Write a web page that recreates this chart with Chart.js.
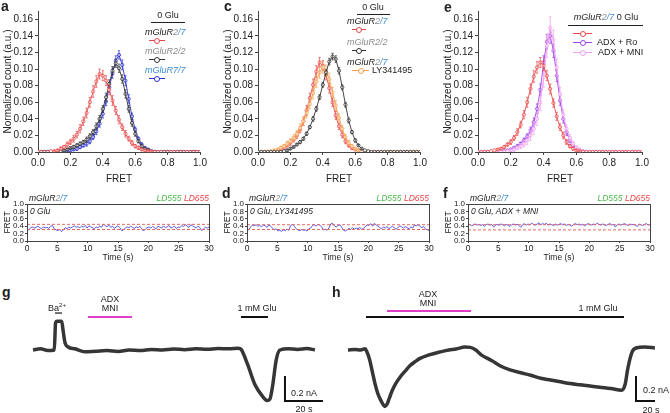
<!DOCTYPE html>
<html>
<head>
<meta charset="utf-8">
<script src="https://cdn.jsdelivr.net/npm/chart.js@4.4.1/dist/chart.umd.min.js"></script>
<style>
  body { margin: 0; background: #fff; }
  #fig { position: relative; width: 670px; height: 413px; overflow: hidden; font-family: "Liberation Sans", Arial, sans-serif; color: #222; }
  #fig canvas { position: absolute; }
  .t { position: absolute; white-space: nowrap; font-size: 9px; line-height: 1; }
  .c { transform: translate(-50%, -50%); }
  .m { transform: translateY(-50%); }
  .it { font-style: italic; }
  .lab { position: absolute; font-weight: bold; font-size: 14px; line-height: 1; }
  .hl { position: absolute; height: 0; border-top: 1px solid #222; }
  .dot { position: absolute; left: 50%; top: -3.5px; margin-left: -3px; width: 4px; height: 4px; border: 1px solid; border-radius: 50%; background: #fff; }
  .g2 { color: #8a8a8a; }
  .b7 { color: #3b8ed8; }
</style>
</head>
<body>
<div id="fig">
  <canvas id="chartA" width="215" height="190" style="left:0;top:0"></canvas>
  <canvas id="chartC" width="215" height="190" style="left:220px;top:0"></canvas>
  <canvas id="chartE" width="220" height="190" style="left:440px;top:0"></canvas>
  <canvas id="chartB" width="215" height="80" style="left:0;top:185px"></canvas>
  <canvas id="chartD" width="215" height="80" style="left:220px;top:185px"></canvas>
  <canvas id="chartF" width="215" height="80" style="left:441px;top:185px"></canvas>
  <canvas id="chartG" width="310" height="123" style="left:20px;top:290px"></canvas>
  <canvas id="chartH" width="335" height="123" style="left:335px;top:290px"></canvas>

  <div class="lab" style="left:1px;top:-1px">a</div>
  <div class="lab" style="left:224px;top:-1px">c</div>
  <div class="lab" style="left:444px;top:0">e</div>
  <div class="lab" style="left:1px;top:186px">b</div>
  <div class="lab" style="left:222px;top:186px">d</div>
  <div class="lab" style="left:443px;top:186px">f</div>
  <div class="lab" style="left:2px;top:285px">g</div>
  <div class="lab" style="left:332px;top:285px">h</div>

  <!-- legend a -->
  <div class="t c" style="left:168px;top:15px">0 Glu</div>
  <div class="hl" style="left:151px;top:22px;width:34px"></div>
  <div class="t m it" style="left:145px;top:32px">mGluR<span class="g2">2</span><span class="b7">/7</span></div>
  <div class="hl" style="left:149px;top:40px;width:16px;border-color:#e8474a"><span class="dot" style="border-color:#e8474a"></span></div>
  <div class="t m it g2" style="left:145px;top:51px">mGluR2/2</div>
  <div class="hl" style="left:149px;top:59px;width:16px;border-color:#333"><span class="dot" style="border-color:#333"></span></div>
  <div class="t m it b7" style="left:145px;top:70px">mGluR7/7</div>
  <div class="hl" style="left:149px;top:78px;width:16px;border-color:#2b2fd0"><span class="dot" style="border-color:#2b2fd0"></span></div>

  <!-- legend c -->
  <div class="t c" style="left:373px;top:7px">0 Glu</div>
  <div class="hl" style="left:357px;top:14px;width:33px"></div>
  <div class="t m it" style="left:347px;top:21px">mGluR<span class="g2">2</span><span class="b7">/7</span></div>
  <div class="hl" style="left:352px;top:29px;width:14px;border-color:#e8474a"><span class="dot" style="border-color:#e8474a"></span></div>
  <div class="t m it g2" style="left:347px;top:42px">mGluR2/2</div>
  <div class="hl" style="left:352px;top:50px;width:14px;border-color:#333"><span class="dot" style="border-color:#333"></span></div>
  <div class="t m it" style="left:347px;top:62px">mGluR<span class="g2">2</span><span class="b7">/7</span></div>
  <div class="hl" style="left:352px;top:70px;width:17px;border-color:#f5a04c"><span class="dot" style="border-color:#f5a04c"></span></div>
  <div class="t m" style="left:372px;top:70px">LY341495</div>

  <!-- legend e -->
  <div class="t c" style="left:606px;top:17px"><span class="it">mGluR<span class="g2">2</span><span class="b7">/7</span></span> 0 Glu</div>
  <div class="hl" style="left:568px;top:25px;width:75px"></div>
  <div class="hl" style="left:573px;top:33px;width:19px;border-color:#e8474a"><span class="dot" style="border-color:#e8474a"></span></div>
  <div class="hl" style="left:573px;top:42px;width:19px;border-color:#9a45e6"><span class="dot" style="border-color:#9a45e6"></span></div>
  <div class="t m" style="left:597px;top:42px">ADX + Ro</div>
  <div class="hl" style="left:573px;top:52px;width:19px;border-color:#f29ef0"><span class="dot" style="border-color:#f29ef0"></span></div>
  <div class="t m" style="left:598px;top:52px">ADX + MNI</div>

  <!-- trace panel captions -->
  <div class="t m it" style="left:29px;top:198px;font-size:8.5px">mGluR<span class="g2">2</span><span class="b7">/7</span></div>
  <div class="t m it" style="right:461px;top:198px;font-size:8.5px"><span style="color:#4cb84c">LD555</span> <span style="color:#e8474a">LD655</span></div>
  <div class="t m it" style="left:30px;top:211px;font-size:8.5px">0 Glu</div>
  <div class="t m it" style="left:249px;top:198px;font-size:8.5px">mGluR<span class="g2">2</span><span class="b7">/7</span></div>
  <div class="t m it" style="right:241px;top:198px;font-size:8.5px"><span style="color:#4cb84c">LD555</span> <span style="color:#e8474a">LD655</span></div>
  <div class="t m it" style="left:250px;top:211px;font-size:8.5px">0 Glu, LY341495</div>
  <div class="t m it" style="left:470px;top:198px;font-size:8.5px">mGluR<span class="g2">2</span><span class="b7">/7</span></div>
  <div class="t m it" style="right:20px;top:198px;font-size:8.5px"><span style="color:#4cb84c">LD555</span> <span style="color:#e8474a">LD655</span></div>
  <div class="t m it" style="left:471px;top:211px;font-size:8.5px">0 Glu, ADX + MNI</div>

  <!-- electrophysiology labels -->
  <div class="t c" style="left:57px;top:307px">Ba<sup style="font-size:6px">2+</sup></div>
  <div class="t c" style="left:110px;top:299px">ADX</div>
  <div class="t c" style="left:110px;top:308px">MNI</div>
  <div class="t c" style="left:257px;top:308px">1 mM Glu</div>
  <div class="t m" style="left:291px;top:393px">0.2 nA</div>
  <div class="t c" style="left:304px;top:409px">20 s</div>
  <div class="t c" style="left:428px;top:294px">ADX</div>
  <div class="t c" style="left:428px;top:303px">MNI</div>
  <div class="t c" style="left:598px;top:308px">1 mM Glu</div>
  <div class="t m" style="left:643px;top:390px">0.2 nA</div>
  <div class="t c" style="left:651px;top:410px">20 s</div>
</div>

<script>
// FRET histogram bins (0.02 wide)
const fretBins = [0.00, 0.02, 0.04, 0.06, 0.08, 0.10, 0.12, 0.14, 0.16, 0.18,
                  0.20, 0.22, 0.24, 0.26, 0.28, 0.30, 0.32, 0.34, 0.36, 0.38,
                  0.40, 0.42, 0.44, 0.46, 0.48, 0.50, 0.52, 0.54, 0.56, 0.58,
                  0.60, 0.62, 0.64, 0.66, 0.68, 0.70, 0.72, 0.74, 0.76, 0.78,
                  0.80, 0.82, 0.84, 0.86, 0.88, 0.90, 0.92, 0.94, 0.96, 0.98, 1.00];
const fretTicks = [0, 0.2, 0.4, 0.6, 0.8, 1.0];
const countTicks = [0, 0.02, 0.04, 0.06, 0.08, 0.10, 0.12, 0.14, 0.16];

// panel a
const aR27 = [0, 0, 0, 0, 0.001, 0.001, 0.002, 0.004, 0.006, 0.009,
              0.012, 0.016, 0.021, 0.028, 0.037, 0.047, 0.060, 0.073, 0.085, 0.094,
              0.092, 0.086, 0.075, 0.062, 0.050, 0.039, 0.030, 0.022, 0.016, 0.011,
              0.007, 0.005, 0.003, 0.002, 0.001, 0.001, 0, 0, 0, 0,
              0, 0, 0, 0, 0, 0, 0, 0, 0, 0, 0];
const aR27Err = [0, 0, 0, 0, 0, 0.001, 0.001, 0.002, 0.002, 0.003,
                 0.003, 0.004, 0.004, 0.005, 0.005, 0.006, 0.006, 0.007, 0.007, 0.006,
                 0.006, 0.006, 0.006, 0.006, 0.005, 0.005, 0.004, 0.004, 0.003, 0.003,
                 0.002, 0.002, 0.001, 0.001, 0.001, 0.001, 0, 0, 0, 0,
                 0, 0, 0, 0, 0, 0, 0, 0, 0, 0, 0];
const aR22 = [0, 0, 0, 0, 0, 0, 0, 0.001, 0.002, 0.003,
              0.005, 0.006, 0.008, 0.010, 0.012, 0.015, 0.019, 0.024, 0.031, 0.040,
              0.052, 0.066, 0.082, 0.098, 0.107, 0.101, 0.088, 0.070, 0.052, 0.035,
              0.022, 0.013, 0.007, 0.004, 0.002, 0.001, 0, 0, 0, 0,
              0, 0, 0, 0, 0, 0, 0, 0, 0, 0, 0];
const aR22Err = [0, 0, 0, 0, 0, 0, 0, 0, 0.001, 0.001,
                 0.001, 0.002, 0.002, 0.002, 0.002, 0.003, 0.003, 0.003, 0.004, 0.004,
                 0.004, 0.005, 0.005, 0.005, 0.005, 0.005, 0.005, 0.005, 0.004, 0.004,
                 0.003, 0.002, 0.002, 0.001, 0.001, 0, 0, 0, 0, 0,
                 0, 0, 0, 0, 0, 0, 0, 0, 0, 0, 0];
const aR77 = [0, 0, 0, 0, 0, 0, 0, 0, 0.001, 0.001,
              0.002, 0.003, 0.004, 0.006, 0.008, 0.010, 0.013, 0.018, 0.025, 0.034,
              0.046, 0.061, 0.078, 0.095, 0.110, 0.117, 0.105, 0.086, 0.064, 0.043,
              0.027, 0.016, 0.009, 0.005, 0.003, 0.001, 0, 0, 0, 0,
              0, 0, 0, 0, 0, 0, 0, 0, 0, 0, 0];
const aR77Err = [0, 0, 0, 0, 0, 0, 0, 0, 0, 0.001,
                 0.001, 0.001, 0.002, 0.002, 0.002, 0.003, 0.003, 0.003, 0.004, 0.004,
                 0.005, 0.005, 0.006, 0.006, 0.006, 0.005, 0.006, 0.006, 0.005, 0.004,
                 0.003, 0.002, 0.002, 0.001, 0.001, 0, 0, 0, 0, 0,
                 0, 0, 0, 0, 0, 0, 0, 0, 0, 0, 0];

// panel c
const cR27 = [0, 0, 0, 0, 0, 0.001, 0.002, 0.003, 0.005, 0.008,
              0.011, 0.015, 0.020, 0.027, 0.037, 0.050, 0.065, 0.081, 0.097, 0.108,
              0.104, 0.093, 0.077, 0.060, 0.044, 0.031, 0.021, 0.013, 0.008, 0.005,
              0.003, 0.002, 0.001, 0, 0, 0, 0, 0, 0, 0,
              0, 0, 0, 0, 0, 0, 0, 0, 0, 0, 0];
const cR27Err = [0, 0, 0, 0, 0, 0, 0.001, 0.001, 0.002, 0.002,
                 0.003, 0.003, 0.004, 0.004, 0.005, 0.006, 0.006, 0.007, 0.007, 0.006,
                 0.006, 0.006, 0.006, 0.005, 0.005, 0.004, 0.004, 0.003, 0.002, 0.002,
                 0.001, 0.001, 0, 0, 0, 0, 0, 0, 0, 0,
                 0, 0, 0, 0, 0, 0, 0, 0, 0, 0, 0];
const cR22 = [0, 0, 0, 0, 0, 0, 0, 0, 0.001, 0.002,
              0.004, 0.006, 0.009, 0.012, 0.016, 0.022, 0.030, 0.040, 0.052, 0.066,
              0.081, 0.096, 0.109, 0.115, 0.112, 0.098, 0.078, 0.057, 0.038, 0.024,
              0.014, 0.008, 0.004, 0.002, 0.001, 0, 0, 0, 0, 0,
              0, 0, 0, 0, 0, 0, 0, 0, 0, 0, 0];
const cR22Err = [0, 0, 0, 0, 0, 0, 0, 0, 0, 0.001,
                 0.001, 0.001, 0.001, 0.002, 0.002, 0.002, 0.002, 0.003, 0.003, 0.003,
                 0.003, 0.003, 0.004, 0.004, 0.004, 0.004, 0.003, 0.003, 0.003, 0.002,
                 0.002, 0.001, 0.001, 0, 0, 0, 0, 0, 0, 0,
                 0, 0, 0, 0, 0, 0, 0, 0, 0, 0, 0];
const cLY = [0, 0, 0, 0, 0.001, 0.002, 0.003, 0.005, 0.007, 0.010,
             0.013, 0.017, 0.022, 0.029, 0.037, 0.047, 0.058, 0.071, 0.085, 0.096,
             0.102, 0.098, 0.088, 0.072, 0.056, 0.041, 0.028, 0.018, 0.011, 0.007,
             0.004, 0.002, 0.001, 0, 0, 0, 0, 0, 0, 0,
             0, 0, 0, 0, 0, 0, 0, 0, 0, 0, 0];
const cLYErr = [0, 0, 0, 0, 0, 0.001, 0.001, 0.002, 0.002, 0.003,
                0.003, 0.004, 0.004, 0.005, 0.005, 0.006, 0.006, 0.007, 0.007, 0.007,
                0.007, 0.007, 0.007, 0.006, 0.006, 0.005, 0.004, 0.003, 0.003, 0.002,
                0.001, 0.001, 0, 0, 0, 0, 0, 0, 0, 0,
                0, 0, 0, 0, 0, 0, 0, 0, 0, 0, 0];

// panel e
const eR27 = [0, 0, 0, 0, 0.001, 0.002, 0.003, 0.004, 0.006, 0.009,
              0.012, 0.017, 0.024, 0.033, 0.045, 0.060, 0.076, 0.091, 0.102, 0.108,
              0.104, 0.092, 0.076, 0.059, 0.043, 0.030, 0.020, 0.012, 0.007, 0.004,
              0.002, 0.001, 0, 0, 0, 0, 0, 0, 0, 0,
              0, 0, 0, 0, 0, 0, 0, 0, 0, 0, 0];
const eR27Err = [0, 0, 0, 0, 0, 0, 0.001, 0.001, 0.002, 0.002,
                 0.003, 0.003, 0.004, 0.004, 0.005, 0.006, 0.006, 0.007, 0.007, 0.006,
                 0.006, 0.006, 0.006, 0.005, 0.005, 0.004, 0.004, 0.003, 0.002, 0.002,
                 0.001, 0.001, 0, 0, 0, 0, 0, 0, 0, 0,
                 0, 0, 0, 0, 0, 0, 0, 0, 0, 0, 0];
const eRo = [0, 0, 0, 0, 0, 0, 0, 0, 0.001, 0.002,
             0.003, 0.005, 0.007, 0.010, 0.014, 0.019, 0.026, 0.036, 0.052, 0.075,
             0.108, 0.133, 0.140, 0.122, 0.092, 0.062, 0.040, 0.024, 0.014, 0.008,
             0.004, 0.002, 0.001, 0, 0, 0, 0, 0, 0, 0,
             0, 0, 0, 0, 0, 0, 0, 0, 0, 0, 0];
const eRoErr = [0, 0, 0, 0, 0, 0, 0, 0, 0, 0.001,
                0.001, 0.001, 0.002, 0.002, 0.003, 0.003, 0.004, 0.005, 0.006, 0.007,
                0.008, 0.009, 0.009, 0.008, 0.007, 0.006, 0.005, 0.004, 0.003, 0.002,
                0.001, 0.001, 0, 0, 0, 0, 0, 0, 0, 0,
                0, 0, 0, 0, 0, 0, 0, 0, 0, 0, 0];
const eMNI = [0, 0, 0, 0, 0, 0, 0, 0, 0, 0.001,
              0.002, 0.003, 0.005, 0.007, 0.010, 0.014, 0.020, 0.028, 0.040, 0.060,
              0.090, 0.128, 0.150, 0.135, 0.102, 0.070, 0.045, 0.028, 0.017, 0.010,
              0.005, 0.003, 0.001, 0, 0, 0, 0, 0, 0, 0,
              0, 0, 0, 0, 0, 0, 0, 0, 0, 0, 0];
const eMNIErr = [0, 0, 0, 0, 0, 0, 0, 0, 0, 0,
                 0.001, 0.002, 0.002, 0.003, 0.004, 0.005, 0.006, 0.007, 0.008, 0.010,
                 0.012, 0.014, 0.013, 0.012, 0.010, 0.008, 0.006, 0.005, 0.004, 0.003,
                 0.002, 0.001, 0, 0, 0, 0, 0, 0, 0, 0,
                 0, 0, 0, 0, 0, 0, 0, 0, 0, 0, 0];

// single-molecule FRET traces, one sample every 0.3 s
const traceDt = 0.3;
const timeTicks = [0, 5, 10, 15, 20, 25, 30];
const fretTraceTicks = [0, 0.2, 0.4, 0.6, 0.8, 1.0];
const bTrace = [0.32, 0.30, 0.36, 0.38, 0.35, 0.37, 0.40, 0.36, 0.33, 0.38,
                0.36, 0.37, 0.34, 0.40, 0.42, 0.33, 0.30, 0.28, 0.32, 0.25,
                0.30, 0.36, 0.33, 0.38, 0.35, 0.38, 0.41, 0.37, 0.39, 0.36,
                0.40, 0.37, 0.42, 0.35, 0.41, 0.38, 0.36, 0.33, 0.38, 0.36,
                0.40, 0.37, 0.46, 0.41, 0.39, 0.43, 0.37, 0.40, 0.34, 0.38,
                0.41, 0.36, 0.28, 0.30, 0.35, 0.38, 0.36, 0.40, 0.37, 0.34,
                0.38, 0.36, 0.40, 0.33, 0.27, 0.32, 0.36, 0.38, 0.35, 0.39,
                0.36, 0.33, 0.40, 0.37, 0.35, 0.41, 0.36, 0.38, 0.42, 0.35,
                0.37, 0.40, 0.34, 0.38, 0.36, 0.42, 0.39, 0.44, 0.40, 0.37,
                0.44, 0.41, 0.38, 0.35, 0.40, 0.36, 0.28, 0.33, 0.37, 0.35, 0.38];
const bLevels = [0.45, 0.31];
const dTrace = [0.32, 0.30, 0.38, 0.43, 0.41, 0.44, 0.40, 0.42, 0.38, 0.43,
                0.41, 0.37, 0.43, 0.40, 0.35, 0.30, 0.33, 0.27, 0.29, 0.26,
                0.30, 0.28, 0.32, 0.29, 0.42, 0.45, 0.40, 0.33, 0.30, 0.28,
                0.31, 0.29, 0.30, 0.27, 0.33, 0.35, 0.42, 0.44, 0.40, 0.45,
                0.43, 0.38, 0.30, 0.32, 0.29, 0.35, 0.46, 0.48, 0.41, 0.38,
                0.42, 0.44, 0.37, 0.29, 0.27, 0.30, 0.34, 0.31, 0.36, 0.32,
                0.35, 0.33, 0.37, 0.31, 0.34, 0.38, 0.44, 0.42, 0.47, 0.40,
                0.48, 0.43, 0.40, 0.36, 0.33, 0.38, 0.35, 0.39, 0.33, 0.37,
                0.40, 0.35, 0.32, 0.37, 0.41, 0.38, 0.35, 0.39, 0.36, 0.33,
                0.38, 0.35, 0.43, 0.41, 0.44, 0.40, 0.36, 0.39, 0.33, 0.30, 0.29];
const dLevels = [0.44, 0.31];
const fTrace = [0.42, 0.45, 0.41, 0.44, 0.46, 0.43, 0.45, 0.42, 0.44, 0.40,
                0.44, 0.46, 0.43, 0.45, 0.38, 0.42, 0.45, 0.43, 0.46, 0.44,
                0.41, 0.45, 0.43, 0.39, 0.44, 0.46, 0.43, 0.45, 0.42, 0.37,
                0.44, 0.47, 0.43, 0.46, 0.44, 0.48, 0.45, 0.43, 0.46, 0.49,
                0.44, 0.47, 0.45, 0.48, 0.43, 0.46, 0.44, 0.42, 0.46, 0.43,
                0.45, 0.47, 0.44, 0.46, 0.42, 0.45, 0.43, 0.40, 0.45, 0.47,
                0.44, 0.46, 0.43, 0.45, 0.41, 0.44, 0.47, 0.45, 0.43, 0.46,
                0.44, 0.48, 0.45, 0.43, 0.46, 0.44, 0.42, 0.45, 0.47, 0.43,
                0.45, 0.38, 0.44, 0.46, 0.43, 0.45, 0.47, 0.44, 0.42, 0.46,
                0.44, 0.45, 0.43, 0.39, 0.46, 0.44, 0.42, 0.45, 0.47, 0.43, 0.45];
const fLevels = [0.44, 0.30];

// whole-cell currents (s, nA)
const gTime = [0, 4, 8, 11.5, 12.2, 13, 15.5, 16.2, 17.3, 19,
               22.7, 28, 34, 40, 46, 52, 58, 64, 70, 76,
               82, 88, 94, 100, 106, 111, 112.5, 116, 120, 124,
               126.5, 128, 129.5, 131.5, 133.5, 138, 143, 148, 152.4];
const gCurrent = [0, 0.01, -0.005, 0, 0.225, 0.24, 0.24, 0.17, 0.06, 0.025,
                  0.01, -0.015, -0.01, -0.005, -0.012, 0, -0.005, 0.005, 0, 0.008,
                  0.003, 0.01, 0.006, 0.012, 0.01, 0.015, 0.005, -0.12, -0.29, -0.385,
                  -0.42, -0.41, -0.30, -0.08, 0, 0.01, 0.005, 0.012, 0];
const gBaOn = [11.9, 15.7];
const gDrugOn = [29.7, 53.5];
const gGluOn = [112.4, 127];
const hTime = [0, 8, 14, 19, 21, 24, 27, 30, 33, 36.5,
               41, 43.5, 46, 49, 53, 58, 63, 69, 75, 80,
               90, 102, 112, 120, 130, 136, 142, 148, 160, 170,
               180, 192, 203, 214, 225, 236, 247, 258, 269, 280,
               292, 304, 307.8, 311, 315.6, 320, 330, 341];
const hCurrent = [0, 0.005, 0, 0.01, -0.015, -0.08, -0.18, -0.28, -0.36, -0.42,
                  -0.47, -0.45, -0.40, -0.34, -0.28, -0.225, -0.18, -0.13, -0.095, -0.07,
                  -0.04, -0.017, 0, 0.008, 0.025, 0.022, 0, -0.04, -0.09, -0.135,
                  -0.165, -0.19, -0.21, -0.235, -0.25, -0.265, -0.28, -0.29, -0.30, -0.31,
                  -0.32, -0.335, -0.29, -0.15, -0.017, 0.017, 0.025, 0.017];
const hDrugOn = [43.3, 136.7];
const hGluOn = [20, 306.7];
const barCurrent = 0.2;   // nA
const barTime = 20;       // s

const FONT = '"Liberation Sans", Arial, sans-serif';
const AXIS = '#444';
Chart.defaults.font.family = FONT;
Chart.defaults.color = '#222';

// vertical error bars, drawn through the y scale
const errorBars = {
    id: 'errorBars',
    afterDatasetDraw(chart, args) {
        const ds = chart.data.datasets[args.index];
        if (!ds.errors) return;
        const y = chart.scales.y;
        const ctx = chart.ctx;
        ctx.save();
        ctx.strokeStyle = ds.borderColor;
        ctx.lineWidth = 0.7;
        args.meta.data.forEach((pt, i) => {
            const e = ds.errors[i];
            if (!e) return;
            const v = ds.data[i].y;
            const y1 = y.getPixelForValue(v + e);
            const y2 = y.getPixelForValue(v - e);
            ctx.beginPath();
            ctx.moveTo(pt.x, y1); ctx.lineTo(pt.x, y2);
            ctx.moveTo(pt.x - 1.2, y1); ctx.lineTo(pt.x + 1.2, y1);
            ctx.moveTo(pt.x - 1.2, y2); ctx.lineTo(pt.x + 1.2, y2);
            ctx.stroke();
        });
        ctx.restore();
    }
};

// closed frame round the plot area
const frameBox = {
    id: 'frameBox',
    afterDraw(chart) {
        const a = chart.chartArea;
        const ctx = chart.ctx;
        ctx.save();
        ctx.strokeStyle = AXIS;
        ctx.lineWidth = 1;
        ctx.strokeRect(Math.round(a.left) + 0.5, Math.round(a.top) + 0.5,
                       Math.round(a.right - a.left), Math.round(a.bottom - a.top));
        ctx.restore();
    }
};

function fixedTicks(list) {
    return scale => { scale.ticks = list.map(v => ({ value: v })); };
}

function histChart(id, series, padRight) {
    return new Chart(document.getElementById(id), {
        type: 'line',
        data: {
            datasets: series.map(s => ({
                data: s.values.map((v, i) => ({ x: fretBins[i], y: v })),
                errors: s.errors,
                borderColor: s.color,
                borderWidth: 0.9,
                pointRadius: 1.6,
                pointBorderWidth: 0.8,
                pointBorderColor: s.color,
                pointBackgroundColor: '#fff',
                tension: 0
            }))
        },
        options: {
            responsive: false,
            animation: false,
            devicePixelRatio: 1,
            layout: { padding: { top: 11, right: padRight, left: 0, bottom: 0 } },
            plugins: { legend: { display: false }, tooltip: { enabled: false } },
            scales: {
                x: {
                    type: 'linear', min: 0, max: 1,
                    afterBuildTicks: fixedTicks(fretTicks),
                    afterFit: s => { s.height = 38; },
                    ticks: { autoSkip: false, maxRotation: 0, padding: 2, font: { size: 10 },
                             callback: v => v.toFixed(1) },
                    grid: { drawOnChartArea: false, tickLength: 3, color: AXIS },
                    border: { color: AXIS },
                    title: { display: true, text: 'FRET', font: { size: 10 }, padding: { top: 0, bottom: 5 } }
                },
                y: {
                    min: 0, max: 0.17,
                    afterBuildTicks: fixedTicks(countTicks),
                    afterFit: s => { s.width = 38; },
                    ticks: { autoSkip: false, padding: 2, font: { size: 10 },
                             callback: v => v.toFixed(2) },
                    grid: { drawOnChartArea: false, tickLength: 3, color: AXIS },
                    border: { color: AXIS },
                    title: { display: true, text: 'Normalized count (a.u.)', font: { size: 10 },
                             padding: { top: 2, bottom: 0 } }
                }
            }
        },
        plugins: [errorBars]
    });
}

function traceChart(id, trace, levels) {
    const pts = trace.map((v, i) => ({ x: i * traceDt, y: v }));
    const dashed = levels.map(v => ({
        data: [{ x: 0, y: v }, { x: 30, y: v }],
        borderColor: '#e26a6a', borderWidth: 1, borderDash: [3, 2], pointRadius: 0
    }));
    return new Chart(document.getElementById(id), {
        type: 'line',
        data: {
            datasets: dashed.concat([{
                data: pts, borderColor: '#5b5be8', borderWidth: 1, pointRadius: 0, tension: 0
            }])
        },
        options: {
            responsive: false,
            animation: false,
            devicePixelRatio: 1,
            layout: { padding: { top: 19, right: 6, left: 0, bottom: 0 } },
            plugins: { legend: { display: false }, tooltip: { enabled: false } },
            scales: {
                x: {
                    type: 'linear', min: 0, max: 30,
                    afterBuildTicks: fixedTicks(timeTicks),
                    afterFit: s => { s.height = 24; },
                    ticks: { autoSkip: false, maxRotation: 0, padding: 1, font: { size: 8.5 } },
                    grid: { drawOnChartArea: false, tickLength: 2, color: AXIS },
                    border: { color: AXIS },
                    title: { display: true, text: 'Time (s)', font: { size: 8.5 }, padding: { top: 0, bottom: 2 } }
                },
                y: {
                    min: 0, max: 1,
                    afterBuildTicks: fixedTicks(fretTraceTicks),
                    afterFit: s => { s.width = 27; },
                    ticks: { autoSkip: false, padding: 1, font: { size: 8 }, callback: v => v.toFixed(1) },
                    grid: { drawOnChartArea: false, tickLength: 2, color: AXIS },
                    border: { color: AXIS },
                    title: { display: true, text: 'FRET', font: { size: 8.5 }, padding: { top: 2.5, bottom: 0 } }
                }
            }
        },
        plugins: [frameBox]
    });
}

function segment(t0, t1, v, color, width) {
    return { data: [{ x: t0, y: v }, { x: t1, y: v }], borderColor: color, borderWidth: width, pointRadius: 0 };
}

function ephysChart(id, time, current, xMin, xMax, bars, scaleAt) {
    const sb = {
        data: [{ x: scaleAt, y: -0.225 }, { x: scaleAt, y: -0.225 - barCurrent }, { x: scaleAt + barTime, y: -0.225 - barCurrent }],
        borderColor: '#111', borderWidth: 2, pointRadius: 0, borderCapStyle: 'square', borderJoinStyle: 'miter'
    };
    return new Chart(document.getElementById(id), {
        type: 'line',
        data: {
            datasets: [{
                data: time.map((t, i) => ({ x: t, y: current[i] })),
                borderColor: '#363636', borderWidth: 3.5, pointRadius: 0,
                tension: 0.3, cubicInterpolationMode: 'monotone'
            }].concat(bars, [sb])
        },
        options: {
            responsive: false,
            animation: false,
            devicePixelRatio: 1,
            layout: { padding: 0 },
            plugins: { legend: { display: false }, tooltip: { enabled: false } },
            scales: {
                x: { type: 'linear', display: false, min: xMin, max: xMax },
                y: { display: false, min: -0.525, max: 0.5 }
            }
        }
    });
}

histChart('chartA', [
    { values: aR27, errors: aR27Err, color: '#e8474a' },
    { values: aR22, errors: aR22Err, color: '#333333' },
    { values: aR77, errors: aR77Err, color: '#2b2fd0' }
], 15);
histChart('chartC', [
    { values: cR22, errors: cR22Err, color: '#333333' },
    { values: cLY, errors: cLYErr, color: '#f5a04c' },
    { values: cR27, errors: cR27Err, color: '#e8474a' }
], 15);
histChart('chartE', [
    { values: eR27, errors: eR27Err, color: '#e8474a' },
    { values: eMNI, errors: eMNIErr, color: '#f29ef0' },
    { values: eRo, errors: eRoErr, color: '#9a45e6' }
], 18);

traceChart('chartB', bTrace, bLevels);
traceChart('chartD', dTrace, dLevels);
traceChart('chartF', fTrace, fLevels);

ephysChart('chartG', gTime, gCurrent, -7.03, 160.54, [
    segment(gBaOn[0], gBaOn[1], 0.308, '#444', 1.5),
    segment(gDrugOn[0], gDrugOn[1], 0.275, '#e040c8', 2),
    segment(gGluOn[0], gGluOn[1], 0.275, '#111', 2)
], 136.2);
ephysChart('chartH', hTime, hCurrent, -14.44, 357.78, [
    segment(hGluOn[0], hGluOn[1], 0.275, '#111', 2),
    segment(hDrugOn[0], hDrugOn[1], 0.325, '#e040c8', 2)
], 320);
</script>
</body>
</html>
